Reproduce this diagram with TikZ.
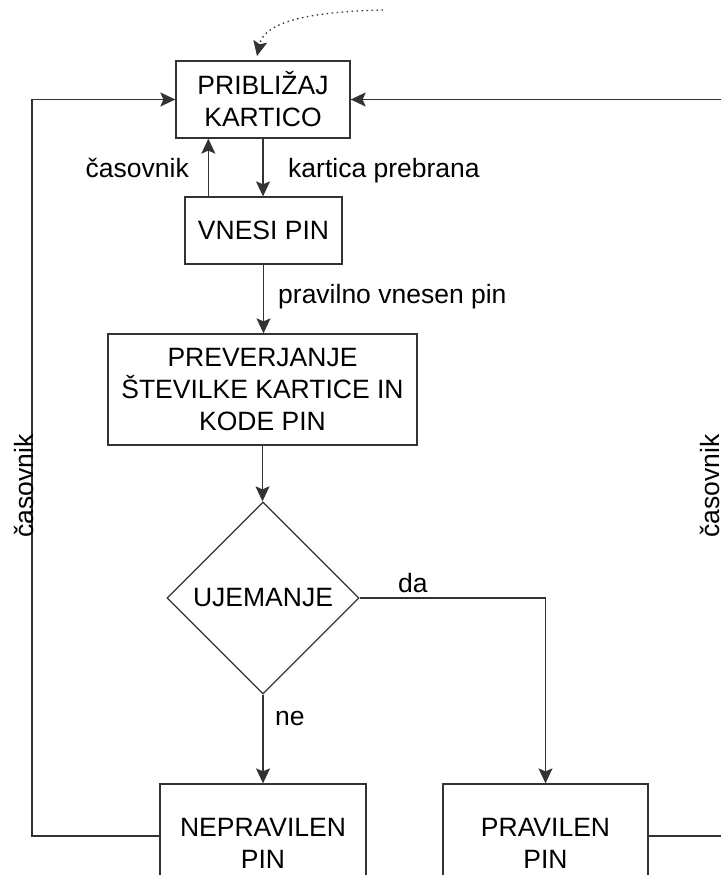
\documentclass[tikz,border=0pt]{standalone}
\usepackage{fontspec}
\setmainfont{Liberation Sans}
\usetikzlibrary{shapes.geometric,arrows.meta,calc}
\definecolor{ln}{HTML}{333333}
\begin{document}
\begin{tikzpicture}[x=1pt,y=-1pt,
  every node/.style={font=\fontsize{26.5}{32}\selectfont, text=black},
  box/.style={draw=ln, line width=1.3pt, align=center, inner sep=0pt},
  dia/.style={draw=ln, line width=1.3pt, diamond, aspect=1, inner sep=0pt, minimum width=192pt, minimum height=192pt},
  conn/.style={draw=ln, line width=1.3pt, -{Stealth[length=15pt,width=14pt,inset=3pt]}},
  lbl/.style={inner sep=0pt}
]
\useasboundingbox (0,0) rectangle (720,875);
\fill[white] (0,0) rectangle (720,875);

\node[box, minimum width=174pt, minimum height=77pt] (p1) at (263,99.5) {PRIBLIŽAJ\\KARTICO};
\node[box, minimum width=157pt, minimum height=67pt] (p2) at (263.5,230.5) {VNESI PIN};
\node[box, minimum width=309pt, minimum height=111pt] (p3) at (262.5,389.5) {PREVERJANJE\\ŠTEVILKE KARTICE IN\\KODE PIN};
\node[dia] (d) at (263,598) {UJEMANJE};
\node[box, minimum width=206pt, minimum height=118pt] (n) at (263,843) {NEPRAVILEN\\PIN};
\node[box, minimum width=205pt, minimum height=118pt] (ok) at (545.5,843) {PRAVILEN\\PIN};

\coordinate (yl) at (0,836);
\coordinate (lx) at (32,0);
\coordinate (rx) at (724,0);
\coordinate (ds) at (383,10);
\coordinate (dt) at (257,56);

\draw[conn] (p1.south) -- (p1.south |- p2.north);
\draw[conn] ($(p2.north west)+(24,0)$) -- ($(p1.south west)+(33,0)$);
\draw[conn] (p2.south) -- (p2.south |- p3.north);
\draw[conn] (p3.south) -- (p3.south |- d.north);
\draw[conn] (d.south) -- (d.south |- n.north);
\draw[conn] (d.east) -| (ok.north);
\draw[conn] (n.west |- yl) -- (lx |- yl) -- (lx |- p1.west) -- (p1.west);
\draw[conn] (ok.east |- yl) -- (rx |- yl) -- (rx |- p1.east) -- (p1.east);
\draw[conn, dash pattern=on 1.5pt off 3.5pt] (ds) .. controls (300,12) and (264,24) .. (dt);

\node[lbl, anchor=base east] (lc) at (189,177) {časovnik};
\node[lbl, anchor=base west] (lk) at (288,177) {kartica prebrana};
\node[lbl, anchor=base west] (lp) at (278,303) {pravilno vnesen pin};
\node[lbl, anchor=base west] (lda) at (398,592) {da};
\node[lbl, anchor=base west] (lne) at (275,725) {ne};
\node[lbl, rotate=90, anchor=base west] (lt1) at (33,538) {časovnik};
\node[lbl, rotate=90, anchor=base west] (lt2) at (719,538) {časovnik};
\end{tikzpicture}
\end{document}
